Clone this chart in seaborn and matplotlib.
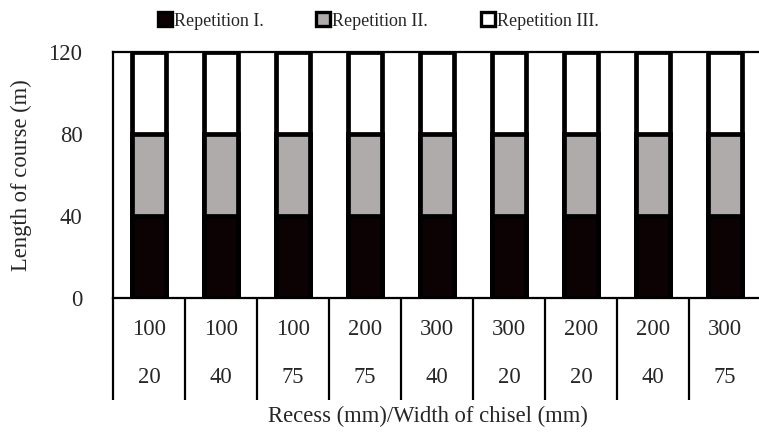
import matplotlib
matplotlib.use("Agg")
import matplotlib.pyplot as plt
import matplotlib.transforms as mtransforms
from matplotlib.lines import Line2D
import numpy as np
import pandas as pd
import seaborn as sns

recess = ["100", "100", "100", "200", "300", "300", "200", "200", "300"]
chisel = ["20", "40", "75", "75", "40", "20", "20", "40", "75"]
rep1 = [40, 40, 40, 40, 40, 40, 40, 40, 40]
rep2 = [40, 40, 40, 40, 40, 40, 40, 40, 40]
rep3 = [40, 40, 40, 40, 40, 40, 40, 40, 40]
series_names = ["Repetition I.", "Repetition II.", "Repetition III."]
colors = ["#0c0203", "#afabab", "#ffffff"]
yticks = [0, 40, 80, 120]

sns.set_theme(style="white")
plt.rcParams["font.family"] = ["Liberation Serif", "DejaVu Serif"]

FS = 16.3

cats = [f"{r}/{c}#{i}" for i, (r, c) in enumerate(zip(recess, chisel))]
stack = np.cumsum(np.array([rep1, rep2, rep3]), axis=0)

fig = plt.figure(figsize=(7.59, 4.41), dpi=100)
ax = fig.add_axes([113 / 759, 1 - 298 / 441, (761 - 113) / 759, (298 - 52) / 441])

# draw cumulative totals back-to-front to form stacked bars
for level in [2, 1, 0]:
    df = pd.DataFrame({"cat": cats, "val": stack[level]})
    sns.barplot(data=df, x="cat", y="val", color=colors[level], width=0.46,
                edgecolor="black", linewidth=3.4, saturation=1, ax=ax, zorder=2 + (2 - level))

ax.set_xlim(-0.5, len(cats) - 0.5)
ax.set_ylim(0, 120)
ax.set_yticks(yticks)
ax.set_yticklabels([str(t) for t in yticks], fontsize=FS)
ax.tick_params(axis="y", length=0, pad=22)
ax.set_xticks([])
ax.set_xlabel("")
ax.set_ylabel("Length of course (m)", fontsize=FS, labelpad=12)

for side in ["left", "top", "bottom"]:
    ax.spines[side].set_visible(True)
    ax.spines[side].set_color("black")
    ax.spines[side].set_linewidth(1.6)
ax.spines["right"].set_visible(False)

trans = mtransforms.blended_transform_factory(ax.transData, ax.transAxes)
for i in range(len(cats)):
    ax.text(i, -0.13, recess[i], transform=trans, ha="center", va="center", fontsize=FS, clip_on=False)
    ax.text(i, -0.325, chisel[i], transform=trans, ha="center", va="center", fontsize=FS, clip_on=False)
for b in np.arange(-0.5, len(cats) - 0.5, 1.0):
    ax.plot([b, b], [0, -0.415], transform=trans, color="black", lw=1.6, clip_on=False,
            solid_capstyle="butt")

fig.text(428 / 759, 1 - 416 / 441, "Recess (mm)/Width of chisel (mm)",
         ha="center", va="center", fontsize=FS)

handles = [Line2D([0], [0], marker="s", linestyle="none", markersize=10.5,
                  markerfacecolor=c, markeredgecolor="black", markeredgewidth=2.4)
           for c in colors]
fig.legend(handles, series_names, loc="center", bbox_to_anchor=(378 / 759, 1 - 21 / 441),
           ncol=3, frameon=False, fontsize=13, handletextpad=0.1, columnspacing=2.9,
           handlelength=0.8)

fig.savefig("out.png", dpi=100)
